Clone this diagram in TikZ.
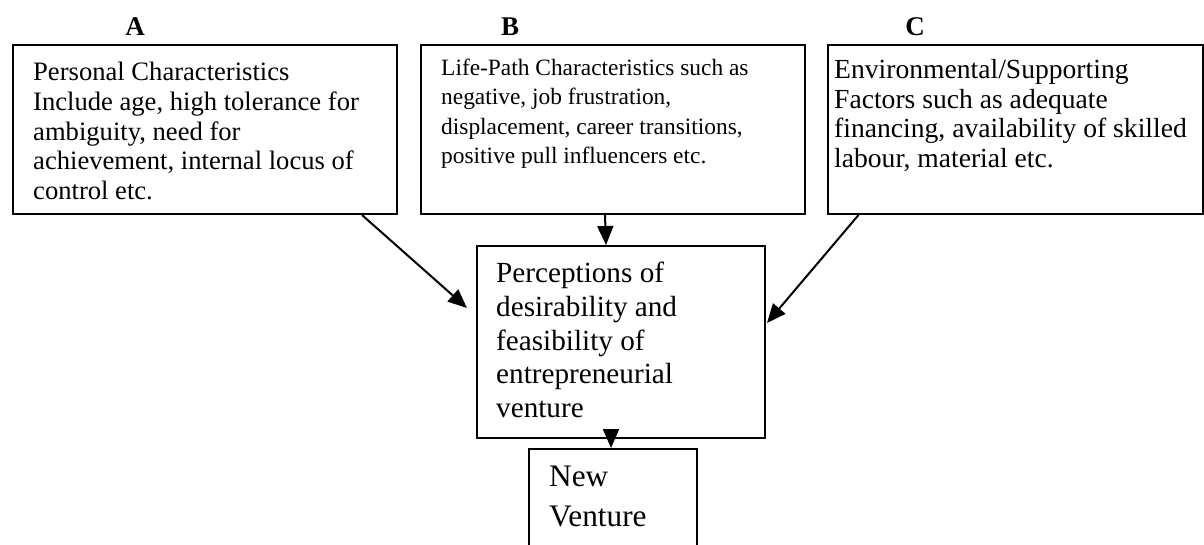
\documentclass[tikz,border=0pt]{standalone}
\usepackage{fontspec}
\setmainfont{Liberation Serif}
\usepackage{tikz}
\usetikzlibrary{arrows.meta, positioning}

\begin{document}
\begin{tikzpicture}[x=1pt, y=-1pt,
  box/.style={draw, line width=2pt, inner sep=0pt, anchor=north west},
  txt/.style={inner sep=0pt, align=left},
  lbl/.style={font=\fontsize{27}{30}\selectfont\bfseries},
  arr/.style={-{Triangle[length=19pt, width=16pt]}, line width=2pt}
]
\useasboundingbox (0,0) rectangle (1204,544);

\node[lbl] (la) at (135,27) {A};
\node[lbl] (lb) at (510,27) {B};
\node[lbl] (lc) at (915,27) {C};

\node[box, minimum width=384pt, minimum height=169pt] (pers) at (12,44) {};
\node[box, minimum width=384pt, minimum height=169pt] (life) at (420,44) {};
\node[box, minimum width=375pt, minimum height=169pt] (env) at (827,44) {};
\node[box, minimum width=288pt, minimum height=192pt] (percep) at (476,245) {};
\node[box, minimum width=168pt, minimum height=130pt] (newv) at (528,448) {};

\node[txt, font=\fontsize{26.6}{29.75}\selectfont, below right=18pt and 21pt of pers.north west] (perstxt)
  {Personal Characteristics\\Include age, high tolerance for\\ambiguity, need for\\achievement, internal locus of\\control etc.};
\node[txt, font=\fontsize{23.4}{29.3}\selectfont, below right=15pt and 21pt of life.north west] (lifetxt)
  {Life-Path Characteristics such as\\negative, job frustration,\\displacement, career transitions,\\positive pull influencers etc.};
\node[txt, font=\fontsize{27.6}{29.75}\selectfont, below right=15pt and 7pt of env.north west] (envtxt)
  {Environmental/Supporting\\Factors such as adequate\\financing, availability of skilled\\labour, material etc.};
\node[txt, font=\fontsize{29.2}{33.7}\selectfont, below right=17pt and 20pt of percep.north west] (perceptxt)
  {Perceptions of\\desirability and\\feasibility of\\entrepreneurial\\venture};
\node[txt, font=\fontsize{31.3}{40}\selectfont, below right=18pt and 21pt of newv.north west] (newvtxt)
  {New\\Venture};

\draw[arr] ([xshift=157pt]pers.south) -- ([xshift=-9pt, yshift=34pt]percep.west);
\draw[arr] ([xshift=-8pt]life.south) -- ([xshift=-15pt]percep.north);
\draw[arr] ([xshift=-157pt]env.south) -- ([xshift=1pt, yshift=19pt]percep.east);
\draw[arr] ([xshift=-10pt]percep.south) -- ([xshift=-2pt]newv.north);
\end{tikzpicture}
\end{document}
